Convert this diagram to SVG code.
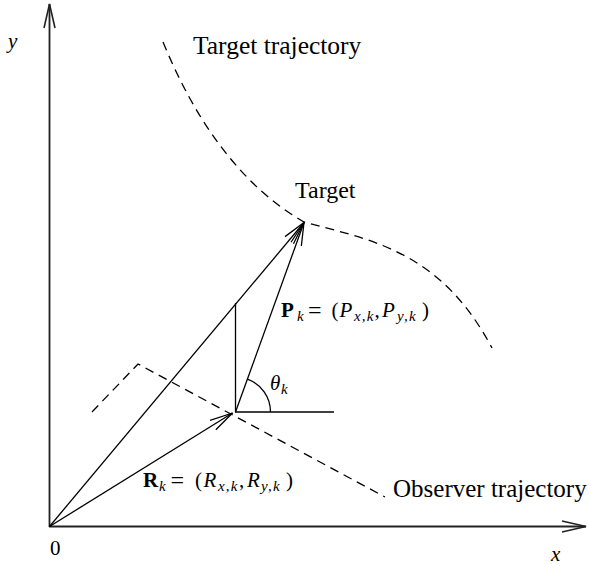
<svg xmlns="http://www.w3.org/2000/svg" width="589" height="566" viewBox="0 0 589 566">
<style>
.t{font-family:"Liberation Serif","Times New Roman",serif;fill:#000}
.lbl{font-size:25px}
.m{font-size:21px}
.s{font-size:15px;font-style:italic;letter-spacing:1.2px}
.i{font-style:italic}
.b{font-weight:bold}
.eq{font-size:24px}
.ax{stroke:#222;stroke-width:1.8;fill:none}
.v{stroke:#000;stroke-width:1.3;fill:none}
.d{stroke:#000;stroke-width:1.3;fill:none;stroke-dasharray:9 6}
</style>
<defs>
<marker id="arr" markerUnits="userSpaceOnUse" orient="auto" overflow="visible" markerWidth="1" markerHeight="1" refX="0" refY="0">
<path d="M-23,-5.5 L0,0 L-23,5.5" fill="none" stroke="#000" stroke-width="1.3"/>
</marker>
<marker id="axarr" markerUnits="userSpaceOnUse" orient="auto" overflow="visible" markerWidth="1" markerHeight="1" refX="0" refY="0">
<path d="M-24,-5.5 L0,0 L-24,5.5" fill="none" stroke="#222" stroke-width="1.6"/>
</marker>
</defs>
<rect width="589" height="566" fill="#fff"/>
<g id="axes">
<line class="ax" x1="49.5" y1="527" x2="49.5" y2="4" marker-end="url(#axarr)"/>
<line class="ax" x1="49" y1="526.5" x2="586" y2="526.5" marker-end="url(#axarr)"/>
<text class="t m i" x="8" y="48">y</text>
<text class="t m i" x="551" y="561">x</text>
<text class="t m" x="50" y="555">0</text>
</g>
<g id="target-trajectory">
<path class="d" d="M163,42 C195,120 240,185 304,222 C370,240 440,250 492,348"/>
<text class="t" font-size="25.5" x="193" y="54">Target trajectory</text>
</g>
<g id="target">
<text class="t" font-size="24" x="295" y="198">Target</text>
</g>
<g id="observer-trajectory">
<polyline class="d" points="92,412 138,364 385,497"/>
<text class="t lbl" x="393" y="497">Observer trajectory</text>
</g>
<g id="connectors">
<line class="v" x1="49.5" y1="526.5" x2="304" y2="222.5" marker-end="url(#arr)"/>
<line class="v" x1="49.5" y1="526.5" x2="232.5" y2="413" marker-end="url(#arr)"/>
<line class="v" x1="235.5" y1="412" x2="304" y2="222.5" marker-end="url(#arr)"/>
<line class="v" x1="235.5" y1="412" x2="235.5" y2="303"/>
<line class="v" x1="235" y1="412" x2="334" y2="412"/>
<path class="v" d="M270.5,412 A35,35 0 0 0 247.5,379.2"/>
</g>
<g id="label-P">
<text class="t m">
<tspan class="b" x="281" y="317">P</tspan><tspan class="s" x="297" y="321">k</tspan>
<tspan class="eq" x="317.5" y="318" text-anchor="middle">=</tspan>
<tspan x="331.5" y="317">(</tspan><tspan class="i" x="339.5" y="317">P</tspan><tspan class="s" x="354" y="321">x,k</tspan>
<tspan x="374.5" y="317">,</tspan><tspan class="i" x="382" y="317">P</tspan><tspan class="s" x="397" y="321">y,k</tspan>
<tspan x="422" y="317">)</tspan>
</text>
</g>
<g id="label-R">
<text class="t m">
<tspan class="b" x="143" y="487">R</tspan><tspan class="s" x="159" y="491">k</tspan>
<tspan class="eq" x="180" y="488" text-anchor="middle">=</tspan>
<tspan x="195" y="487">(</tspan><tspan class="i" x="203.5" y="487">R</tspan><tspan class="s" x="218" y="491">x,k</tspan>
<tspan x="239" y="487">,</tspan><tspan class="i" x="247" y="487">R</tspan><tspan class="s" x="261" y="491">y,k</tspan>
<tspan x="286" y="487">)</tspan>
</text>
</g>
<g id="label-theta">
<text class="t m"><tspan class="i" x="270" y="390">θ</tspan><tspan class="s" x="281" y="394">k</tspan></text>
</g>
</svg>
